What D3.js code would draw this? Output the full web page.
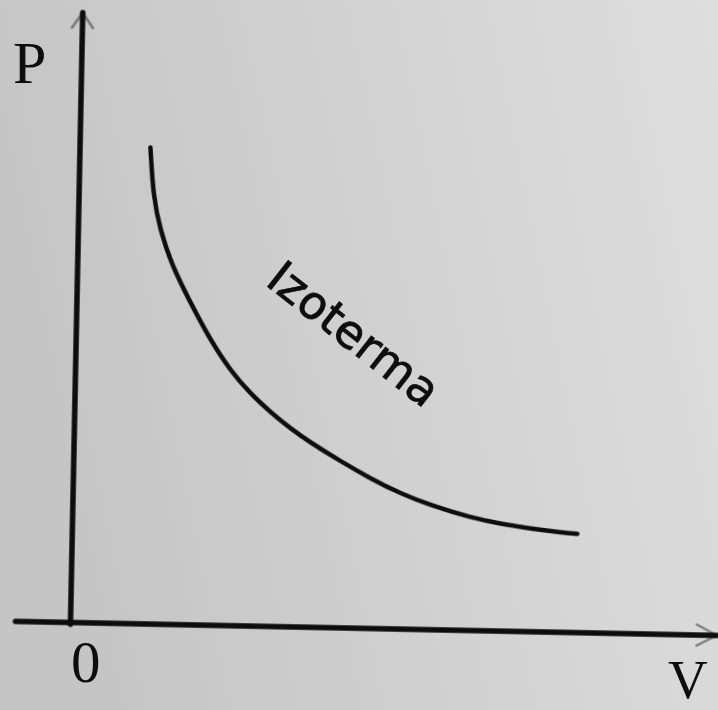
<!DOCTYPE html>
<html>
<head>
<meta charset="utf-8">
<script src="https://cdn.jsdelivr.net/npm/d3@7"></script>
<style>
  html, body { margin: 0; padding: 0; background: #d2d2d2; }
  svg { display: block; }
</style>
</head>
<body>
<svg id="chart" width="718" height="710"></svg>
<script>
// Isotherm P(V): volume and pressure in arbitrary units
const volume   = [1.10, 1.16, 1.28, 1.47, 1.78, 2.10, 2.42, 2.74, 3.06, 3.38, 3.69, 4.17, 4.64, 5.12, 5.59, 6.22, 6.69, 7.16, 7.63, 7.89];
const pressure = [7.81, 7.00, 6.46, 5.89, 5.27, 4.67, 4.18, 3.81, 3.51, 3.25, 3.03, 2.73, 2.46, 2.22, 2.04, 1.85, 1.76, 1.69, 1.64, 1.62];

const axisLabels = { x: "V", y: "P", origin: "0" };
const curveLabel = "Izoterma";

const W = 718, H = 710;
const origin = [70.5, 622.5];
const tilt = 1.15; // degrees, whole drawing is slightly turned

const svg = d3.select("#chart");

// paper background
const defs = svg.append("defs");
const grad = defs.append("linearGradient").attr("id", "paper")
  .attr("x1", "0").attr("y1", "0.2").attr("x2", "1").attr("y2", "0");
grad.append("stop").attr("offset", "0").attr("stop-color", "#c5c5c5");
grad.append("stop").attr("offset", "0.5").attr("stop-color", "#d2d2d2");
grad.append("stop").attr("offset", "1").attr("stop-color", "#dedede");
const soft = defs.append("filter").attr("id", "soft")
  .attr("x", "-5%").attr("y", "-5%").attr("width", "110%").attr("height", "110%");
soft.append("feGaussianBlur").attr("stdDeviation", 0.7);

svg.append("rect").attr("width", W).attr("height", H).attr("fill", "url(#paper)");

const x = d3.scaleLinear().domain([0, 10]).range([0, 640]);
const y = d3.scaleLinear().domain([0, 10]).range([0, -610]);

const g = svg.append("g")
  .attr("transform", `translate(${origin[0]},${origin[1]}) rotate(${tilt})`)
  .attr("filter", "url(#soft)");

const ink = "#111";

// axes
g.append("line")
  .attr("x1", x(-0.86)).attr("y1", 0).attr("x2", x(10.1)).attr("y2", 0)
  .attr("stroke", ink).attr("stroke-width", 5.5).attr("stroke-linecap", "round");
g.append("line")
  .attr("x1", 0).attr("y1", y(-0.03)).attr("x2", 0).attr("y2", y(10))
  .attr("stroke", ink).attr("stroke-width", 5.5).attr("stroke-linecap", "round");

// faint arrow heads
const xTip = x(10.1), yTip = y(10);
g.append("path")
  .attr("d", `M${xTip - 21},-11 L${xTip},0 L${xTip - 21},11`)
  .attr("fill", "none").attr("stroke", ink).attr("stroke-width", 2.5)
  .attr("opacity", 0.45);
g.append("path")
  .attr("d", `M-11,${yTip + 16} L0,${yTip} L11,${yTip + 16}`)
  .attr("fill", "none").attr("stroke", ink).attr("stroke-width", 2.5)
  .attr("opacity", 0.45);

// isotherm curve
const pts = volume.map((v, i) => [x(v), y(pressure[i])]);
g.append("path")
  .attr("d", d3.line().curve(d3.curveBasis)(pts))
  .attr("fill", "none").attr("stroke", ink).attr("stroke-width", 4.5)
  .attr("stroke-linecap", "round");

// labels
const t = svg.append("g").attr("filter", "url(#soft)");
t.append("text").text(axisLabels.y)
  .attr("x", 13).attr("y", 83)
  .attr("font-family", "Liberation Serif, serif").attr("font-size", 60).attr("fill", ink);
t.append("text").text(axisLabels.origin)
  .attr("x", 71).attr("y", 682)
  .attr("font-family", "Liberation Serif, serif").attr("font-size", 59).attr("fill", ink);
t.append("text").text(axisLabels.x)
  .attr("x", 668).attr("y", 698)
  .attr("font-family", "Liberation Serif, serif").attr("font-size", 55).attr("fill", ink);
t.append("text").text(curveLabel)
  .attr("transform", "translate(264,284) rotate(38)")
  .attr("font-family", "DejaVu Sans, sans-serif").attr("font-size", 46)
  .attr("fill", ink).attr("stroke", ink).attr("stroke-width", 0.8);
</script>
</body>
</html>
